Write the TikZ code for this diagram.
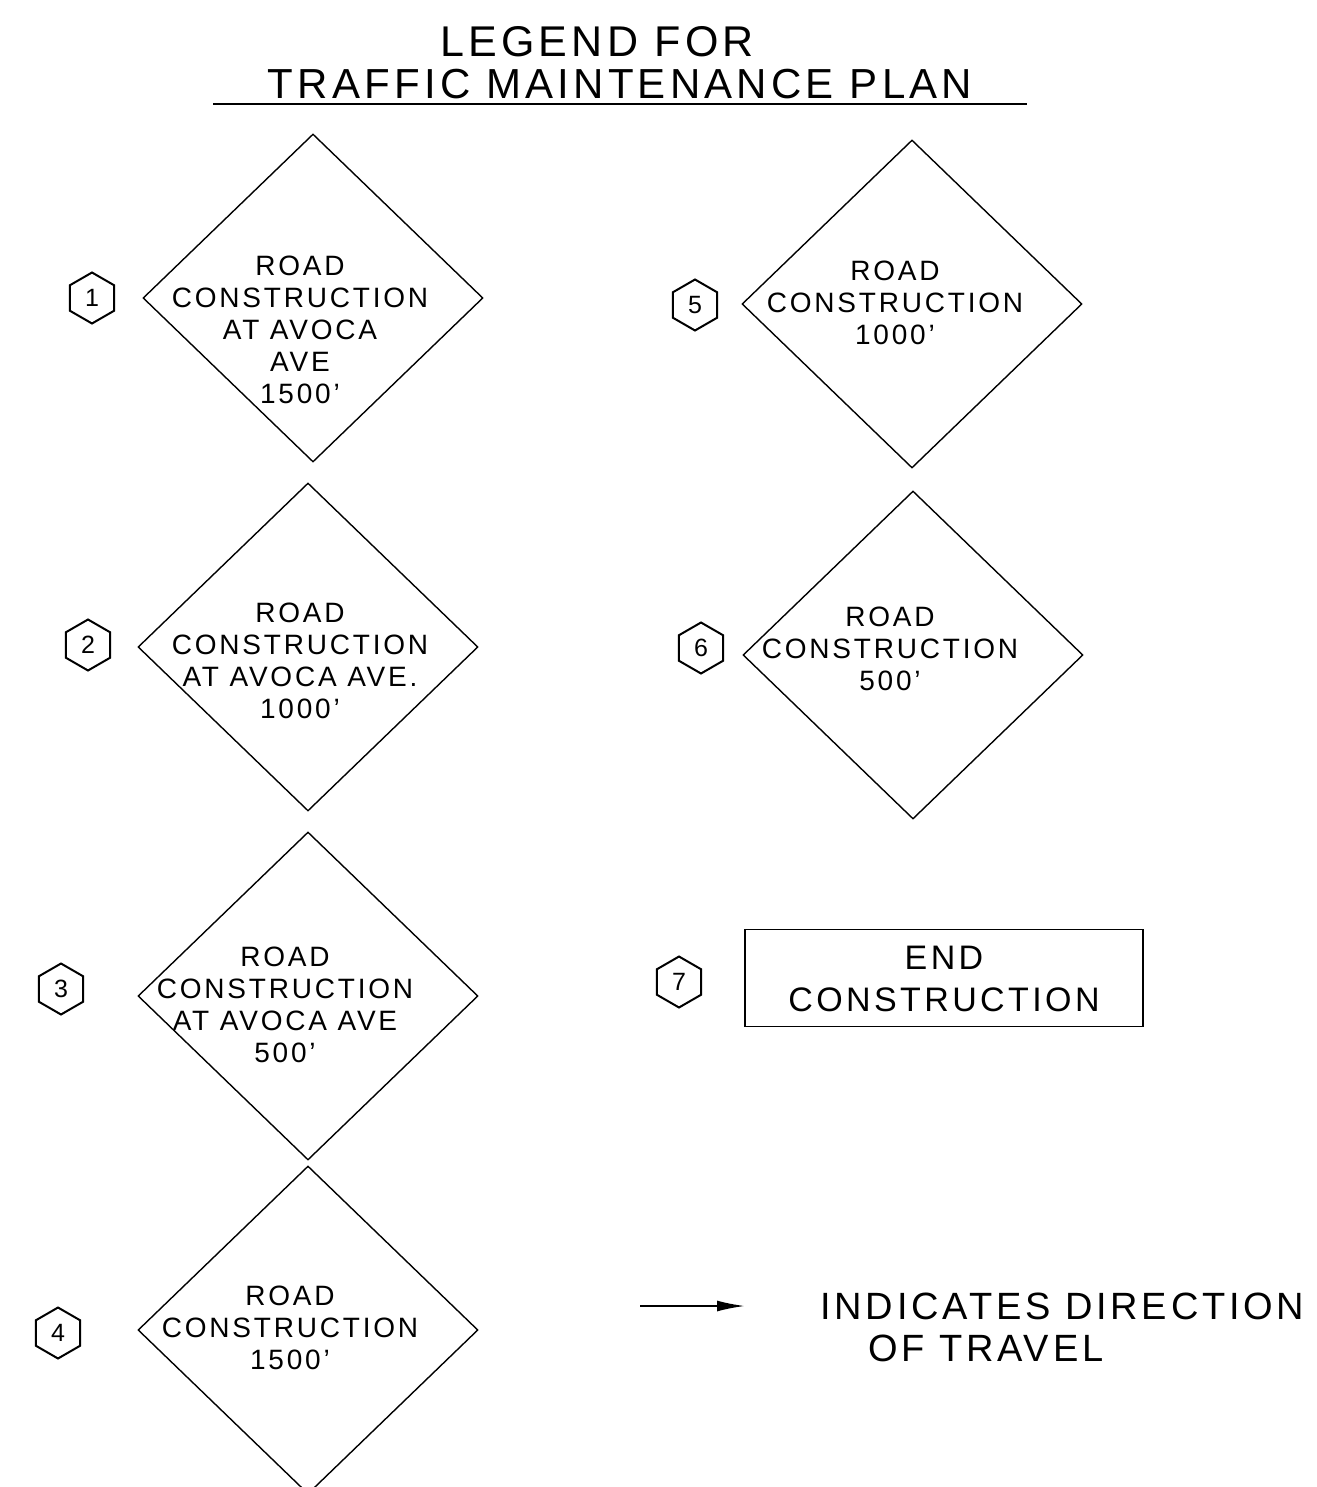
\documentclass[tikz,border=0pt]{standalone}
\usepackage{fontspec}
\setmainfont{Liberation Sans}[LetterSpace=10]
\usetikzlibrary{shapes.geometric,arrows.meta}

\begin{document}
\begin{tikzpicture}[x=0.5pt,y=-0.5pt,
    sign/.style={draw,shape=diamond,inner sep=0pt,line width=0.7pt,
      minimum width=170pt,minimum height=164pt},
    hexnum/.style={draw,regular polygon,regular polygon sides=6,
      shape border rotate=30,inner sep=0pt,minimum size=25.5pt,line width=1pt,
      font=\fontsize{12.5}{13}\selectfont},
    signtext/.style={align=center,inner sep=0pt,
      font=\fontsize{14}{16}\selectfont},
    bigtext/.style={inner sep=0pt,font=\fontsize{19}{21}\selectfont}]
  \useasboundingbox (0,0) rectangle (1316,1487);
  % title
  \draw
    (597,42) node[bigtext,font=\fontsize{21.5}{23}\selectfont] (title1){LEGEND FOR}
    (620,84) node[bigtext,font=\fontsize{21}{23}\selectfont] (title2){TRAFFIC MAINTENANCE PLAN};
  \coordinate (ulineL) at (213,104);
  \coordinate (ulineR) at (1027,104);
  \draw[line width=1.4pt] (ulineL) -- (ulineR);
  % signs
  \draw
    (313,298) node[sign] (d1){}
    (912,304) node[sign] (d5){}
    (308,647) node[sign] (d2){}
    (913,655) node[sign] (d6){}
    (308,996) node[sign] (d3){}
    (308,1330) node[sign] (d4){};
  \draw
    (300,330) node[signtext] (t1){ROAD\\CONSTRUCTION\\AT AVOCA\\AVE\\1500'}
    (895,303) node[signtext] (t5){ROAD\\CONSTRUCTION\\1000'}
    (300,661) node[signtext] (t2){ROAD\\CONSTRUCTION\\AT AVOCA AVE.\\1000'}
    (890,649) node[signtext] (t6){ROAD\\CONSTRUCTION\\500'}
    (285,1005) node[signtext] (t3){ROAD\\CONSTRUCTION\\AT AVOCA AVE\\500'}
    (290,1328) node[signtext] (t4){ROAD\\CONSTRUCTION\\1500'};
  % numbers
  \draw
    (92,298) node[hexnum] (h1){1}
    (88,645) node[hexnum] (h2){2}
    (61,989) node[hexnum] (h3){3}
    (58,1333) node[hexnum] (h4){4}
    (695,305) node[hexnum] (h5){5}
    (701,648) node[hexnum] (h6){6}
    (679,982) node[hexnum] (h7){7};
  % end construction
  \draw (944,978) node[draw,line width=0.7pt,minimum width=199pt,minimum height=48.5pt,
    inner sep=0pt] (endbox){};
  \draw (944,979) node[align=center,inner sep=0pt,font=\fontsize{17}{21}\selectfont]
    (endtext){END\\CONSTRUCTION};
  % direction of travel
  \coordinate (arrowtail) at (640,1306);
  \coordinate (arrowtip) at (745,1306);
  \draw[line width=1pt,-{Latex[length=14pt,width=5.5pt]}] (arrowtail) -- (arrowtip);
  \draw
    (820,1306) node[bigtext,anchor=west] (dir1){INDICATES DIRECTION}
    (868,1348) node[bigtext,anchor=west] (dir2){OF TRAVEL};
\end{tikzpicture}
\end{document}
